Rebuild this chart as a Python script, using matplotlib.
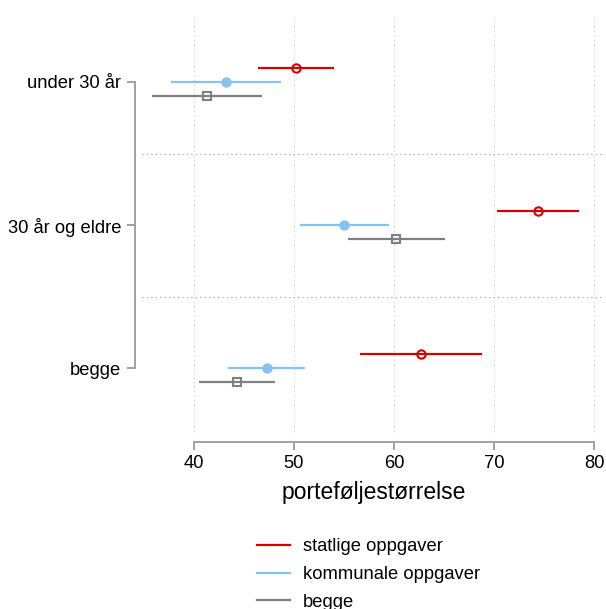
import matplotlib
matplotlib.use("Agg")
import matplotlib.pyplot as plt
from matplotlib.lines import Line2D

plt.rcParams['font.family'] = ['Liberation Sans', 'DejaVu Sans']

# kategorier (fra topp til bunn)
kategorier = ["under 30 år", "30 år og eldre", "begge"]

# estimat og konfidensintervall per gruppe
statlige = [50.2, 74.4, 62.7]
statlige_lo = [46.4, 70.3, 56.6]
statlige_hi = [54.0, 78.5, 68.8]

kommunale = [43.2, 55.0, 47.3]
kommunale_lo = [37.7, 50.6, 43.4]
kommunale_hi = [48.7, 59.5, 51.1]

begge = [41.3, 60.2, 44.3]
begge_lo = [35.8, 55.4, 40.5]
begge_hi = [46.8, 65.1, 48.1]

x_ticks = [40, 50, 60, 70, 80]

serier = [
    ("statlige oppgaver", statlige, statlige_lo, statlige_hi, "#d40000", "o", "none", -0.1),
    ("kommunale oppgaver", kommunale, kommunale_lo, kommunale_hi, "#87c3ec", "o", "#87c3ec", 0.0),
    ("begge", begge, begge_lo, begge_hi, "#808080", "s", "none", 0.1),
]

fig = plt.figure(figsize=(6.06, 6.09), dpi=100)
ax = fig.add_axes([0.2343, 0.284, 0.764, 0.6914])

# vertikale rutenett
for xt in x_ticks:
    ax.axvline(xt, color="#c8c8c8", lw=0.8, ls=(0, (1, 3)), zorder=0)

# skillelinjer mellom kategorier
for sep in [0.5, 1.5]:
    ax.axhline(sep, color="#9a9a9a", lw=0.8, ls=(0, (1, 3)), zorder=0)

handles = []
for navn, est, lo, hi, farge, mk, fc, off in serier:
    for i in range(len(kategorier)):
        y = i + off
        ax.plot([lo[i], hi[i]], [y, y], color=farge, lw=1.6, solid_capstyle="butt", zorder=2)
        ax.plot(est[i], y, marker=mk, ms=6 if mk == "o" else 5.5,
                mfc=fc, mec=farge, mew=1.5, color=farge, zorder=3)
    handles.append(Line2D([0], [0], color=farge, lw=1.6, label=navn))

ax.set_xlim(34.8, 81.1)
ax.set_ylim(2.4755, -0.4685)

ax.set_yticks(range(len(kategorier)))
ax.set_yticklabels(kategorier)
ax.set_xticks(x_ticks)
ax.set_xticklabels([str(v) for v in x_ticks])

for side in ["top", "right"]:
    ax.spines[side].set_visible(False)
ax.spines["left"].set_position(("outward", 5))
ax.spines["bottom"].set_position(("outward", 4))
ax.spines["left"].set_bounds(0, 2)
ax.spines["bottom"].set_bounds(40, 80)
for side in ["left", "bottom"]:
    ax.spines[side].set_color("#a0a0a0")
    ax.spines[side].set_linewidth(1.4)

ax.tick_params(axis="both", color="#a0a0a0", width=1.4, length=6,
               labelcolor="black", labelsize=13.2)
ax.tick_params(axis="y", pad=4)
ax.tick_params(axis="x", pad=4)

ax.set_xlabel("porteføljestørrelse", fontsize=16.5, labelpad=6)

fig.legend(handles=handles, loc="upper left", bbox_to_anchor=(0.424, 0.116),
           frameon=False, fontsize=13.2, handlelength=1.8, handletextpad=0.7,
           labelspacing=0.58, borderpad=0, borderaxespad=0)

fig.savefig("out.png", dpi=100)
plt.close(fig)
